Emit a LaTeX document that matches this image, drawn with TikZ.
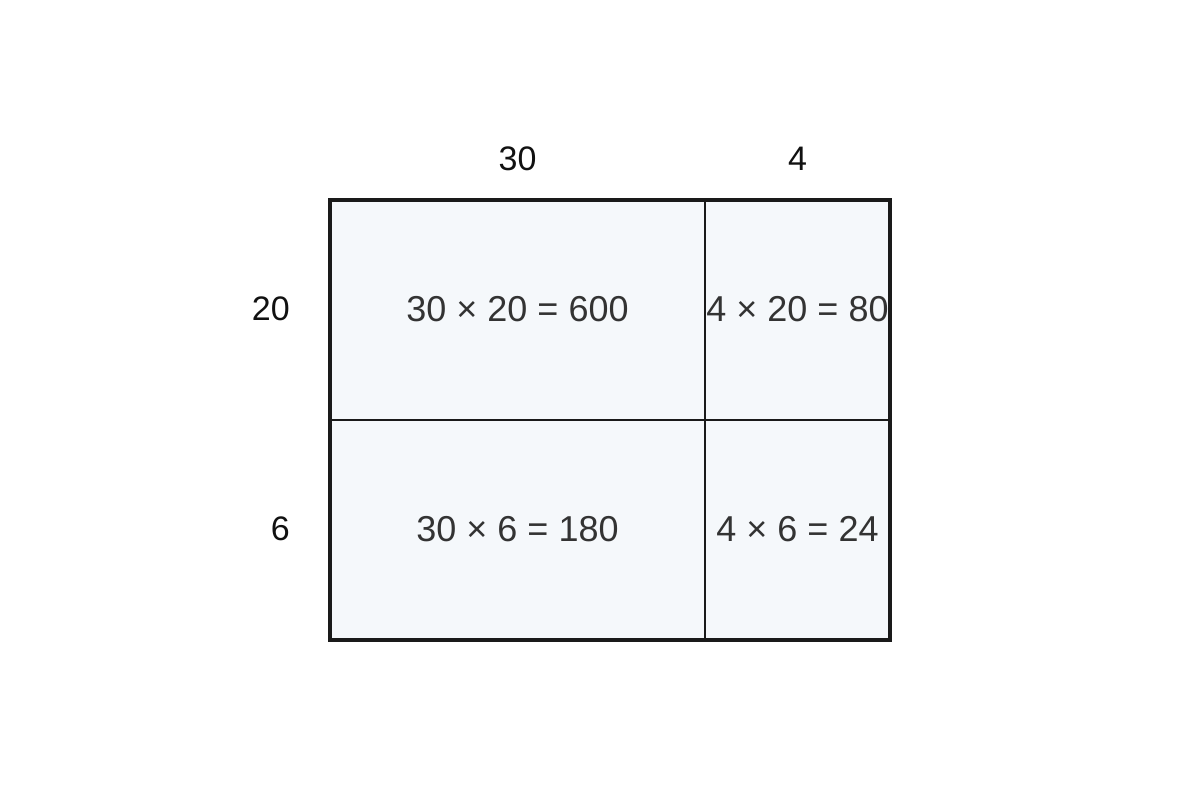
\documentclass[tikz,border=0pt]{standalone}
\usepackage{fontspec}
\setmainfont{Liberation Sans}
\definecolor{cellfill}{HTML}{F5F8FB}
\definecolor{celltext}{HTML}{333333}
\definecolor{labeltext}{HTML}{111111}
\definecolor{linecol}{HTML}{1A1A1A}
\begin{document}
\begin{tikzpicture}[x=0.75pt,y=-0.75pt,
  celltxt/.style={text=celltext,font=\fontsize{27}{32}\selectfont,inner sep=0pt},
  lbl/.style={text=labeltext,font=\fontsize{25.5}{30}\selectfont,inner sep=0pt},
  outer/.style={draw=linecol,line width=2.3pt},
  inner/.style={draw=linecol,line width=1.6pt}]
\useasboundingbox[fill=white] (0,0) rectangle (1200,800);
\fill[cellfill] (330,200) rectangle (890,640);
\coordinate (vt) at (705,200);
\coordinate (vb) at (705,640);
\coordinate (hl) at (330,420);
\coordinate (hr) at (890,420);
\draw[inner] (vt) -- (vb);
\draw[inner] (hl) -- (hr);
\draw[outer] (330,200) rectangle (890,640);
\node[celltxt] (c11) at (517.5,309) {30 × 20 = 600};
\node[celltxt] (c12) at (797.5,309) {4 × 20 = 80};
\node[celltxt] (c21) at (517.5,529) {30 × 6 = 180};
\node[celltxt] (c22) at (797.5,529) {4 × 6 = 24};
\node[lbl] (t1) at (517.5,159) {30};
\node[lbl] (t2) at (797.5,159) {4};
\node[lbl,anchor=east] (l1) at (290,309) {20};
\node[lbl,anchor=east] (l2) at (290,529) {6};
\end{tikzpicture}
\end{document}
